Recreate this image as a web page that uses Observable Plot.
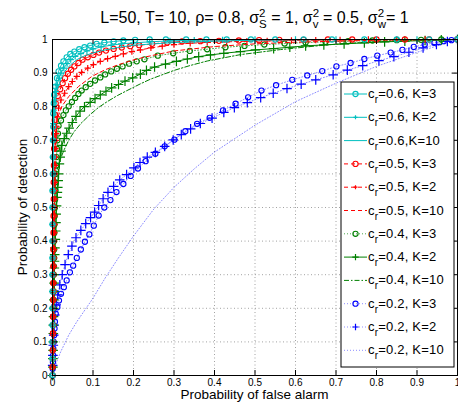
<!DOCTYPE html>
<html><head><meta charset="utf-8">
<script src="https://cdn.jsdelivr.net/npm/d3@7"></script>
<script src="https://cdn.jsdelivr.net/npm/@observablehq/plot@0.6"></script>
<style>body{margin:0;background:#fff} svg{font-family:"Liberation Sans",Arial,sans-serif}</style>
</head><body><div id="chart"></div>
<script>
const xTicks = [0,0.1,0.2,0.3,0.4,0.5,0.6,0.7,0.8,0.9,1];
const xTickLabels = ["0","0.1","0.2","0.3","0.4","0.5","0.6","0.7","0.8","0.9","1"];
const yTicks = [0,0.1,0.2,0.3,0.4,0.5,0.6,0.7,0.8,0.9,1];
const yTickLabels = ["0","0.1","0.2","0.3","0.4","0.5","0.6","0.7","0.8","0.9","1"];

// [Pfa, Pd] pairs
const c06K3 = [[0,0],[0,0.05],[0,0.1],[0,0.15],[0,0.2],[0,0.25],[0,0.3],[0,0.35],[0,0.4],[0,0.45],[0,0.5],[0,0.55],[0.001,0.6],[0.001,0.65],[0.001,0.7],[0.002,0.74],[0.002,0.78],[0.003,0.81],[0.004,0.835],[0.007,0.86],[0.011,0.885],[0.015,0.905],[0.021,0.922],[0.027,0.935],[0.035,0.947],[0.044,0.957],[0.054,0.964],[0.066,0.971],[0.079,0.977],[0.093,0.982],[0.109,0.987],[0.128,0.991],[0.151,0.994],[0.175,0.997],[0.204,0.999],[0.24,1],[0.28,1],[0.33,1],[0.38,1],[0.43,1],[0.49,1],[0.55,1],[0.62,1],[0.69,1],[0.77,1],[0.85,1],[0.93,1],[1,1]];
const c06K2 = [[0,0],[0,0.05],[0,0.1],[0,0.15],[0,0.2],[0,0.25],[0,0.3],[0,0.35],[0,0.4],[0,0.45],[0,0.5],[0.001,0.55],[0.001,0.6],[0.001,0.65],[0.002,0.7],[0.002,0.75],[0.003,0.79],[0.005,0.82],[0.008,0.845],[0.011,0.865],[0.016,0.885],[0.021,0.9],[0.028,0.915],[0.036,0.928],[0.045,0.94],[0.056,0.95],[0.07,0.958],[0.085,0.966],[0.1,0.972],[0.12,0.978],[0.145,0.983],[0.17,0.987],[0.2,0.99],[0.24,0.993],[0.29,0.996],[0.35,0.998],[0.42,0.999],[0.5,1],[0.6,1],[0.7,1],[0.8,1],[0.9,1],[1,1]];
const c06K10 = [[0,0],[0,0.5],[0.001,0.65],[0.003,0.75],[0.006,0.8],[0.01,0.845],[0.02,0.88],[0.03,0.905],[0.045,0.925],[0.06,0.94],[0.08,0.952],[0.1,0.96],[0.13,0.969],[0.16,0.976],[0.2,0.983],[0.3,0.991],[0.4,0.995],[0.5,0.998],[0.7,1],[1,1]];

const c05K3 = [[0,0],[0,0.025],[0.0005,0.05],[0.0005,0.075],[0.001,0.1],[0.001,0.125],[0.001,0.15],[0.001,0.175],[0.001,0.2],[0.0015,0.225],[0.0015,0.25],[0.0015,0.275],[0.002,0.3],[0.002,0.325],[0.002,0.35],[0.002,0.375],[0.002,0.4],[0.0025,0.425],[0.0025,0.45],[0.0025,0.475],[0.003,0.5],[0.003,0.525],[0.003,0.55],[0.003,0.575],[0.003,0.6],[0.0035,0.625],[0.004,0.65],[0.004,0.675],[0.004,0.7],[0.0045,0.72],[0.005,0.74],[0.0055,0.76],[0.006,0.776],[0.008,0.81],[0.013,0.832],[0.019,0.852],[0.025,0.87],[0.031,0.885],[0.038,0.898],[0.046,0.91],[0.054,0.92],[0.064,0.93],[0.074,0.94],[0.087,0.947],[0.101,0.954],[0.115,0.961],[0.132,0.967],[0.151,0.972],[0.171,0.976],[0.192,0.98],[0.214,0.983],[0.246,0.987],[0.283,0.991],[0.32,0.994],[0.365,0.995],[0.411,0.996],[0.46,0.997],[0.51,0.998],[0.56,0.999],[0.62,0.999],[0.68,1],[0.74,1],[0.8,1],[0.87,1],[0.93,1],[1,1]];
const c05K2 = [[0,0],[0.0005,0.025],[0.001,0.05],[0.001,0.075],[0.001,0.1],[0.0015,0.125],[0.002,0.15],[0.002,0.175],[0.002,0.2],[0.0025,0.225],[0.003,0.25],[0.003,0.275],[0.003,0.3],[0.0035,0.325],[0.004,0.35],[0.004,0.375],[0.004,0.4],[0.0045,0.425],[0.005,0.45],[0.005,0.475],[0.005,0.5],[0.0055,0.525],[0.006,0.55],[0.006,0.575],[0.006,0.6],[0.0065,0.625],[0.007,0.65],[0.0075,0.675],[0.008,0.7],[0.009,0.72],[0.01,0.74],[0.012,0.77],[0.015,0.796],[0.021,0.82],[0.03,0.84],[0.04,0.86],[0.049,0.875],[0.06,0.89],[0.072,0.902],[0.087,0.915],[0.101,0.925],[0.118,0.935],[0.136,0.943],[0.155,0.95],[0.175,0.957],[0.196,0.964],[0.217,0.969],[0.243,0.975],[0.271,0.98],[0.3,0.985],[0.34,0.989],[0.382,0.991],[0.43,0.993],[0.48,0.995],[0.53,0.996],[0.59,0.997],[0.65,0.998],[0.71,0.999],[0.78,1],[0.85,1],[0.92,1],[1,1]];
const c05K10 = [[0,0],[0.002,0.3],[0.005,0.6],[0.008,0.7],[0.011,0.761],[0.023,0.801],[0.04,0.83],[0.064,0.86],[0.097,0.89],[0.13,0.91],[0.163,0.925],[0.196,0.938],[0.229,0.948],[0.3,0.966],[0.4,0.979],[0.5,0.987],[0.6,0.992],[0.7,0.995],[0.8,0.998],[1,1]];

const c04K3 = [[0,0],[0.0005,0.025],[0.001,0.05],[0.001,0.075],[0.001,0.1],[0.0015,0.125],[0.002,0.15],[0.002,0.175],[0.002,0.2],[0.0025,0.225],[0.003,0.25],[0.003,0.275],[0.003,0.3],[0.0035,0.325],[0.004,0.35],[0.004,0.375],[0.004,0.4],[0.0045,0.425],[0.005,0.45],[0.0055,0.475],[0.006,0.5],[0.0065,0.525],[0.007,0.55],[0.0075,0.575],[0.008,0.6],[0.009,0.625],[0.01,0.65],[0.011,0.675],[0.012,0.7],[0.0135,0.72],[0.015,0.743],[0.021,0.759],[0.027,0.775],[0.033,0.789],[0.04,0.801],[0.048,0.814],[0.056,0.826],[0.064,0.838],[0.072,0.848],[0.082,0.858],[0.093,0.868],[0.105,0.878],[0.118,0.887],[0.13,0.896],[0.145,0.905],[0.159,0.913],[0.173,0.92],[0.189,0.928],[0.208,0.935],[0.227,0.941],[0.26,0.952],[0.298,0.959],[0.339,0.966],[0.382,0.971],[0.427,0.977],[0.474,0.981],[0.523,0.985],[0.573,0.988],[0.625,0.991],[0.674,0.993],[0.73,0.995],[0.79,0.997],[0.85,0.998],[0.91,0.999],[0.96,1],[1,1]];
const c04K2 = [[0,0],[0.001,0.025],[0.001,0.05],[0.0015,0.075],[0.002,0.1],[0.002,0.125],[0.002,0.15],[0.0025,0.175],[0.003,0.2],[0.0035,0.225],[0.004,0.25],[0.004,0.275],[0.004,0.3],[0.0045,0.32],[0.005,0.34],[0.0055,0.36],[0.006,0.38],[0.007,0.405],[0.008,0.43],[0.0085,0.455],[0.009,0.48],[0.01,0.505],[0.011,0.53],[0.012,0.545],[0.013,0.56],[0.014,0.58],[0.015,0.6],[0.017,0.63],[0.019,0.65],[0.021,0.668],[0.023,0.685],[0.029,0.705],[0.035,0.721],[0.041,0.736],[0.049,0.753],[0.058,0.771],[0.068,0.787],[0.079,0.8],[0.093,0.813],[0.105,0.824],[0.118,0.835],[0.132,0.846],[0.146,0.856],[0.163,0.866],[0.179,0.876],[0.198,0.886],[0.217,0.897],[0.232,0.908],[0.252,0.918],[0.279,0.927],[0.306,0.935],[0.333,0.942],[0.361,0.949],[0.39,0.954],[0.423,0.959],[0.464,0.964],[0.501,0.969],[0.546,0.973],[0.586,0.977],[0.625,0.981],[0.67,0.984],[0.72,0.987],[0.77,0.99],[0.82,0.993],[0.87,0.995],[0.92,0.997],[0.96,0.999],[1,1]];
const c04K10 = [[0,0],[0.002,0.3],[0.005,0.5],[0.007,0.59],[0.015,0.63],[0.028,0.67],[0.04,0.7],[0.053,0.725],[0.07,0.75],[0.094,0.778],[0.114,0.798],[0.135,0.815],[0.16,0.833],[0.184,0.848],[0.217,0.868],[0.242,0.882],[0.3,0.908],[0.341,0.923],[0.382,0.936],[0.464,0.955],[0.563,0.97],[0.678,0.984],[0.8,0.994],[0.9,0.998],[1,1]];

const c02K3 = [[0,0],[0.0005,0.02],[0.001,0.04],[0.0015,0.06],[0.002,0.08],[0.003,0.1],[0.004,0.12],[0.005,0.14],[0.006,0.16],[0.008,0.184],[0.012,0.203],[0.016,0.223],[0.021,0.243],[0.028,0.263],[0.035,0.283],[0.043,0.307],[0.051,0.327],[0.06,0.35],[0.07,0.375],[0.08,0.398],[0.091,0.42],[0.102,0.446],[0.114,0.476],[0.128,0.5],[0.143,0.522],[0.158,0.546],[0.175,0.57],[0.193,0.594],[0.211,0.616],[0.23,0.638],[0.254,0.66],[0.277,0.682],[0.301,0.702],[0.328,0.727],[0.357,0.749],[0.388,0.767],[0.421,0.789],[0.452,0.809],[0.483,0.828],[0.516,0.848],[0.552,0.864],[0.592,0.88],[0.629,0.893],[0.666,0.906],[0.701,0.92],[0.736,0.93],[0.77,0.942],[0.802,0.952],[0.835,0.961],[0.864,0.969],[0.892,0.978],[0.919,0.985],[0.943,0.99],[0.966,0.995],[0.985,0.998],[1,1]];
const c02K2 = [[0,0],[0.0005,0.03],[0.001,0.06],[0.002,0.09],[0.003,0.12],[0.004,0.15],[0.006,0.18],[0.009,0.21],[0.013,0.24],[0.018,0.27],[0.024,0.3],[0.031,0.33],[0.039,0.36],[0.048,0.385],[0.058,0.41],[0.07,0.432],[0.082,0.452],[0.094,0.47],[0.104,0.486],[0.114,0.506],[0.125,0.526],[0.137,0.545],[0.151,0.563],[0.166,0.582],[0.183,0.598],[0.201,0.618],[0.216,0.634],[0.234,0.65],[0.254,0.664],[0.277,0.682],[0.298,0.701],[0.318,0.717],[0.341,0.734],[0.365,0.75],[0.394,0.766],[0.423,0.783],[0.449,0.797],[0.481,0.812],[0.514,0.827],[0.545,0.84],[0.579,0.854],[0.614,0.867],[0.65,0.88],[0.693,0.895],[0.728,0.909],[0.766,0.922],[0.806,0.937],[0.843,0.949],[0.88,0.962],[0.915,0.975],[0.948,0.985],[0.975,0.994],[1,1]];
const c02K10 = [[0,0],[0.01,0.04],[0.02,0.07],[0.04,0.12],[0.06,0.16],[0.08,0.195],[0.1,0.23],[0.13,0.29],[0.16,0.345],[0.2,0.415],[0.25,0.495],[0.3,0.56],[0.35,0.615],[0.4,0.665],[0.5,0.745],[0.6,0.815],[0.7,0.87],[0.8,0.92],[0.9,0.962],[1,1]];

const cyan = "#00bfbf", red = "#ff0000", green = "#008000", blue = "#0000ff";
const series = [
  {label:"=0.6, K=3",  data:c06K3,  color:cyan,  dash:null,        symbol:"circle", lineOpacity:1},
  {label:"=0.6, K=2",  data:c06K2,  color:cyan,  dash:null,        symbol:"plus",   lineOpacity:1, small:true},
  {label:"=0.6,K=10",  data:c06K10, color:cyan,  dash:null,        symbol:null,     lineOpacity:1},
  {label:"=0.5, K=3",  data:c05K3,  color:red,   dash:"4,3",       symbol:"circle", lineOpacity:1},
  {label:"=0.5, K=2",  data:c05K2,  color:red,   dash:"4,3",       symbol:"plus",   lineOpacity:1, small:true},
  {label:"=0.5, K=10", data:c05K10, color:red,   dash:"4,3",       symbol:null,     lineOpacity:1},
  {label:"=0.4, K=3",  data:c04K3,  color:green, dash:"1,2",       symbol:"circle", lineOpacity:0.7},
  {label:"=0.4, K=2",  data:c04K2,  color:green, dash:null,        symbol:"plus",   lineOpacity:1},
  {label:"=0.4, K=10", data:c04K10, color:green, dash:"5,2,1.5,2", symbol:null,     lineOpacity:1},
  {label:"=0.2, K=3",  data:c02K3,  color:blue,  dash:"1,2",       symbol:"circle", lineOpacity:0.45},
  {label:"=0.2, K=2",  data:c02K2,  color:blue,  dash:"1,2",       symbol:"plus",   lineOpacity:0.45},
  {label:"=0.2, K=10", data:c02K10, color:blue,  dash:"1,2",       symbol:null,     lineOpacity:0.45}
];

const W = 458, H = 414, mL = 52, mR = 1, mT = 39, mB = 39;
const innerW = W - mL - mR, innerH = H - mT - mB;

const marks = [
  Plot.gridX(xTicks, {stroke:"#8a8a8a", strokeOpacity:1, strokeDasharray:"1,2.5", strokeWidth:0.8}),
  Plot.gridY(yTicks, {stroke:"#8a8a8a", strokeOpacity:1, strokeDasharray:"1,2.5", strokeWidth:0.8}),
];
for (const s of series.slice().reverse()) {
  marks.push(Plot.line(s.data, {x:d=>d[0], y:d=>d[1], stroke:s.color, strokeWidth:1, strokeDasharray:s.dash, strokeOpacity:s.lineOpacity}));
  if (s.symbol === "circle") marks.push(Plot.dot(s.data, {x:d=>d[0], y:d=>d[1], r:2.6, stroke:s.color, strokeWidth:1.1, fill:"none"}));
  if (s.symbol === "plus") marks.push(Plot.dot(s.data, {x:d=>d[0], y:d=>d[1], symbol:"plus", r:s.small?2.2:3.2, stroke:s.color, strokeWidth:1.2}));
}
marks.push(
  Plot.frame({stroke:"black", strokeWidth:1}),
  Plot.tickX(xTicks, {x:d=>d, insetTop: innerH-5, stroke:"black"}),
  Plot.tickX(xTicks, {x:d=>d, insetBottom: innerH-5, stroke:"black"}),
  Plot.tickY(yTicks, {y:d=>d, insetRight: innerW-5, stroke:"black"}),
  Plot.tickY(yTicks, {y:d=>d, insetLeft: innerW-5, stroke:"black"}),
  Plot.axisX(xTicks, {tickSize:0, tickPadding:3, tickFormat:d=>xTickLabels[xTicks.indexOf(d)], label:null, fontSize:10}),
  Plot.axisY(yTicks, {tickSize:0, tickPadding:5, tickFormat:d=>yTickLabels[yTicks.indexOf(d)], label:null, fontSize:10})
);

const chart = Plot.plot({
  width:W, height:H, marginLeft:mL, marginRight:mR, marginTop:mT, marginBottom:mB,
  x:{domain:[0,1]}, y:{domain:[0,1]},
  style:{fontFamily:'"Liberation Sans", Arial, sans-serif', fontSize:"10px", background:"white", color:"black", overflow:"visible"},
  marks
});
document.getElementById("chart").appendChild(chart);

const svg = d3.select(chart);
// Title
const t = svg.append("text").attr("x", (mL + W - mR)/2).attr("y", 23).attr("text-anchor","middle")
  .attr("font-size", 16).attr("fill","black");
function sigma(sub, rest) {
  t.append("tspan").text("σ");
  t.append("tspan").attr("font-size",11.5).attr("dy",-6.5).text("2");
  t.append("tspan").attr("font-size",11.5).attr("dx",-6.4).attr("dy",11.5).text(sub);
  t.append("tspan").attr("dy",-5).text(rest);
}
t.append("tspan").text("L=50, T= 10, ρ= 0.8, ");
sigma("S", " = 1, ");
sigma("v", " = 0.5, ");
sigma("w", "= 1");

// Axis labels
svg.append("text").attr("x", (mL + W - mR)/2).attr("y", 399).attr("text-anchor","middle")
  .attr("font-size", 13.5).attr("fill","black").text("Probability of false alarm");
svg.append("text").attr("transform", `translate(27,${mT + innerH/2}) rotate(-90)`).attr("text-anchor","middle")
  .attr("font-size", 13.5).attr("fill","black").text("Probability of detection");

// Legend
const lg = svg.append("g").attr("text-anchor","start");
lg.append("rect").attr("x",341).attr("y",82).attr("width",113).attr("height",285).attr("fill","white").attr("stroke","black").attr("stroke-width",1);
series.forEach((s, i) => {
  const yy = 94 + i*23.3;
  lg.append("line").attr("x1",344).attr("x2",367).attr("y1",yy).attr("y2",yy)
    .attr("stroke",s.color).attr("stroke-width",1).attr("stroke-dasharray",s.dash).attr("stroke-opacity",s.lineOpacity);
  if (s.symbol === "circle") lg.append("circle").attr("cx",355.5).attr("cy",yy).attr("r",2.6).attr("fill","none").attr("stroke",s.color).attr("stroke-width",1.1);
  if (s.symbol === "plus") {
    const a = s.small ? 2 : 3.2;
    lg.append("path").attr("d",`M${355.5-a},${yy}H${355.5+a}M355.5,${yy-a}V${yy+a}`).attr("stroke",s.color).attr("stroke-width",1.2);
  }
  const tx = lg.append("text").attr("x",368).attr("y",yy+4).attr("font-size",13).attr("letter-spacing",0.2).attr("fill","black").attr("text-anchor","start");
  tx.append("tspan").text("c");
  tx.append("tspan").attr("font-size",10).attr("dy",5).text("r");
  tx.append("tspan").attr("dy",-5).text(s.label);
});
</script></body></html>
